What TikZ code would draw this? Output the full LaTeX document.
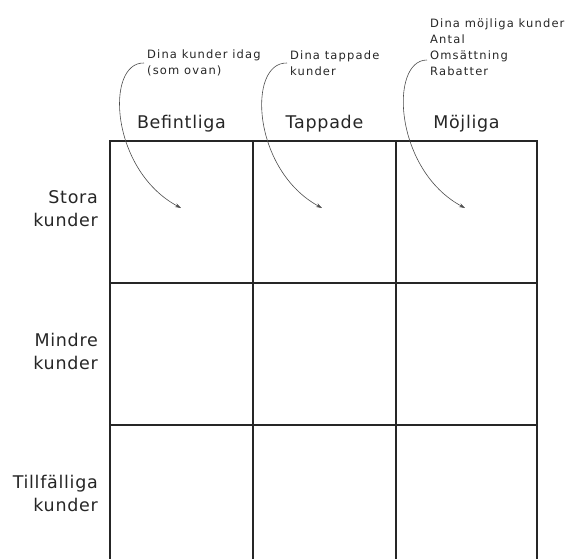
\documentclass[tikz,border=0pt]{standalone}
\usepackage{fontspec}
\setmainfont{DejaVu Sans}
\usetikzlibrary{arrows.meta,positioning}

\tikzset{
  head/.style={font=\fontsize{17.5}{23}\selectfont\addfontfeature{LetterSpace=4}, text=black!85, inner sep=0pt},
  rowlab/.style={head, align=right, anchor=east},
  note/.style={font=\fontsize{11.5}{16}\selectfont\addfontfeature{LetterSpace=10}, text=black!85, align=left, anchor=west, inner sep=0pt},
  grid line/.style={line width=1.3pt, draw=black!85},
  curl/.style={draw=black!70, line width=0.6pt, -{Stealth[length=6pt,width=4pt]}}
}

\begin{document}
\begin{tikzpicture}[x=1pt,y=-1pt]
  \useasboundingbox (0,0) rectangle (574,558);

  %%%%% grid %%%%%
  \draw[grid line] (110,560) -- (110,141) -- (537,141) -- (537,560);
  \draw[grid line] (253,141) -- (253,560);
  \draw[grid line] (396,141) -- (396,560);
  \draw[grid line] (110,283) -- (537,283);
  \draw[grid line] (110,425) -- (537,425);

  %%%%% column heads %%%%%
  \node[head] (befintliga) at (181.5,124) {Befintliga};
  \node[head] (tappade) at (324.5,124) {Tappade};
  \node[head] (mojliga) at (466.5,124) {Möjliga};

  %%%%% row heads %%%%%
  \node[rowlab] (stora) at (98,209) {Stora\\kunder};
  \node[rowlab] (mindre) at (98,351) {Mindre\\kunder};
  \node[rowlab] (tillf) at (98,493) {Tillfälliga\\kunder};

  %%%%% notes %%%%%
  \node[note] (idag) at (147,63) {Dina kunder idag\\(som ovan)};
  \node[note] (lost) at (290,63) {Dina tappade\\kunder};
  \node[note] (maybe) at (430,47) {Dina möjliga kunder\\Antal\\Omsättning\\Rabatter};

  \coordinate (t1) at (181,208);
  \coordinate (t2) at (322,208);
  \coordinate (t3) at (465,208);

  \draw[curl] ([xshift=-3pt]idag.west) .. controls (105,62) and (110,170) .. (t1);
  \draw[curl] ([xshift=-3pt]lost.west) .. controls (247,62) and (252,170) .. (t2);
  \draw[curl] ([xshift=-3pt,yshift=-13pt]maybe.west) .. controls (389,60) and (394,170) .. (t3);
\end{tikzpicture}
\end{document}
